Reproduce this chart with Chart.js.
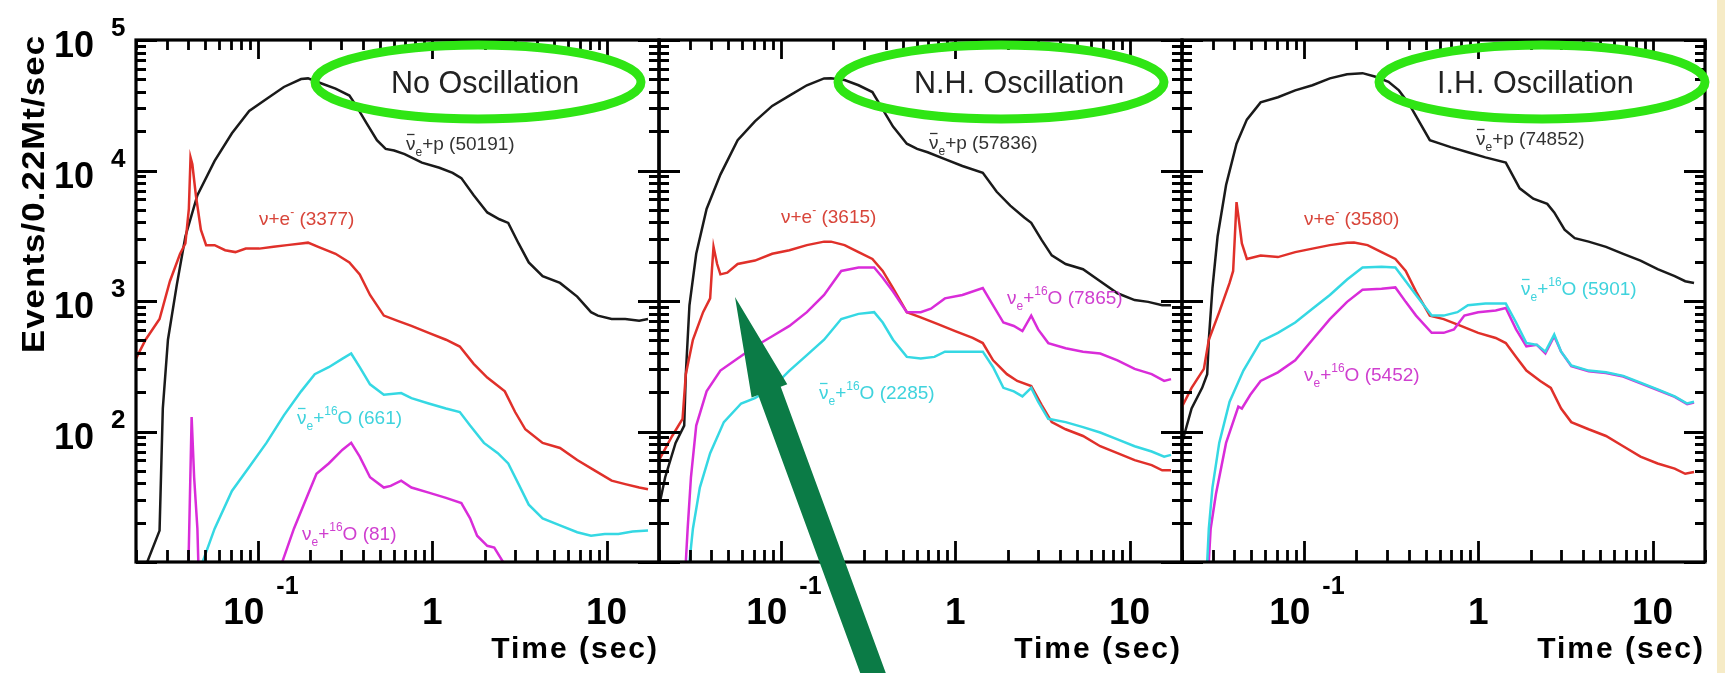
<!DOCTYPE html>
<html>
<head>
<meta charset="utf-8">
<title>Supernova neutrino event rates</title>
<script src="https://cdn.jsdelivr.net/npm/chart.js@4.4.1/dist/chart.umd.min.js"></script>
<style>
  html, body { margin: 0; padding: 0; background: #fff; }
  #wrap { position: relative; width: 1725px; height: 673px; overflow: hidden; background: #fff; }
  #wrap canvas { position: absolute; left: 0; top: 0; }
  #edge { position: absolute; right: 0; top: 0; width: 8px; height: 673px; background: #f6ebc6; }
</style>
</head>
<body>
<div id="wrap">
  <canvas id="pad0" width="1725" height="673"></canvas>
  <canvas id="pad1" width="1725" height="673"></canvas>
  <canvas id="pad2" width="1725" height="673"></canvas>
  <div id="edge"></div>
</div>
<script>
// time in seconds, rates in events / 0.22 Mt / s

const panelTitles = ['No Oscillation', 'N.H. Oscillation', 'I.H. Oscillation'];
const ibdTotals = [50191, 57836, 74852];
const esTotals = [3377, 3615, 3580];
const antiOTotals = [661, 2285, 5901];
const nueOTotals = [81, 7865, 5452];

const xTickValues = [0.1, 1, 10];
const xTickBase = ['10', '1', '10'];
const xTickExp = ['-1', '', ''];
const yTickValues = [1e2, 1e3, 1e4, 1e5];
const yTickExp = ['2', '3', '4', '5'];

// --- no oscillation ---
const noOscIbdT = [0.0232, 0.0273, 0.0285, 0.0305, 0.0343, 0.0384, 0.045, 0.0565, 0.071, 0.0892, 0.112, 0.141, 0.177, 0.194, 0.232, 0.279, 0.335, 0.367, 0.42, 0.482, 0.541, 0.605, 0.695, 0.873, 1.1, 1.31, 1.47, 1.73, 2.07, 2.43, 2.73, 3.13, 3.58, 4.3, 5.41, 6.79, 8.15, 8.92, 10.7, 12.8, 15.4, 17.3];
const noOscIbdN = [10, 17.4, 150, 505, 1334, 3120, 6460, 11860, 19300, 28580, 35300, 43650, 50200, 50800, 46400, 42400, 37500, 31250, 23100, 17060, 14650, 14220, 13370, 11500, 10500, 9600, 8750, 6460, 4770, 4230, 3970, 2760, 1977, 1552, 1375, 1080, 821, 773, 727, 727, 705, 727];
const noOscEsT = [0.02, 0.0227, 0.0273, 0.0313, 0.0358, 0.0384, 0.0402, 0.0411, 0.0421, 0.0441, 0.0471, 0.0505, 0.0565, 0.0649, 0.0743, 0.0853, 0.102, 0.123, 0.147, 0.177, 0.194, 0.222, 0.279, 0.335, 0.384, 0.44, 0.528, 0.634, 0.76, 0.955, 1.2, 1.44, 1.73, 2.07, 2.61, 2.99, 3.42, 4.3, 5.41, 6.79, 8.53, 10.7, 12.8, 15.4, 17.3];
const noOscEsN = [362, 505, 727, 1418, 2300, 2760, 5070, 12600, 11150, 6460, 3520, 2680, 2680, 2450, 2370, 2520, 2520, 2600, 2680, 2760, 2800, 2600, 2300, 1977, 1600, 1112, 773, 705, 644, 570, 505, 448, 330, 259, 203, 141, 104, 81.8, 74.8, 60.4, 50.4, 42.0, 39.5, 37.2, 36.1];
const noOscAntiOT = [0.0482, 0.0565, 0.071, 0.0892, 0.112, 0.141, 0.177, 0.212, 0.255, 0.306, 0.343, 0.384, 0.44, 0.528, 0.664, 0.76, 0.955, 1.2, 1.44, 1.65, 1.98, 2.38, 2.73, 3.13, 3.58, 4.3, 5.41, 6.79, 8.15, 9.77, 11.7, 14.1, 17.3];
const noOscAntiON = [10, 18.0, 35.0, 53.5, 81.8, 133, 203, 275, 311, 362, 396, 311, 230, 191, 197, 180, 164, 150, 141, 111, 81.8, 68.2, 56.9, 39.5, 27.5, 21.6, 19.1, 16.9, 15.9, 16.4, 16.4, 17.1, 17.4];
const noOscNueOT = [0.0390, 0.0417, 0.0431, 0.0450, 0.0471, 0.125, 0.138, 0.161, 0.194, 0.217, 0.255, 0.306, 0.343, 0.384, 0.44, 0.528, 0.578, 0.664, 0.76, 0.955, 1.2, 1.47, 1.65, 1.81, 2.07, 2.27, 2.55, 2.8];
const noOscNueON = [2, 129, 44.6, 18.0, 2, 5, 10, 18.0, 33.0, 47.4, 56.9, 72.5, 81.8, 64.2, 44.6, 37.2, 38.3, 42.0, 37.2, 34.0, 31.0, 28.3, 21.6, 15.9, 13.3, 12.9, 10, 5];

// --- normal hierarchy ---
const nhIbdT = [0.02, 0.0217, 0.0249, 0.0279, 0.0285, 0.0299, 0.0327, 0.0375, 0.045, 0.0565, 0.071, 0.0892, 0.112, 0.141, 0.177, 0.194, 0.232, 0.279, 0.335, 0.384, 0.44, 0.528, 0.605, 0.695, 0.873, 1.1, 1.44, 1.73, 2.07, 2.49, 2.73, 3.13, 3.58, 4.3, 5.41, 6.79, 8.53, 10.7, 12.8, 15.4, 17.3];
const nhIbdN = [26.6, 44.6, 81.8, 111, 275, 927, 2300, 5070, 9300, 17060, 23800, 31250, 37500, 45000, 50800, 51000, 49300, 45000, 39900, 29400, 21700, 16050, 14650, 13800, 12220, 10830, 9600, 6870, 5380, 4360, 3970, 2940, 2235, 1920, 1753, 1418, 1146, 1016, 985, 927, 927];
const nhEsT = [0.02, 0.0238, 0.0273, 0.0285, 0.0313, 0.0358, 0.0393, 0.0402, 0.0411, 0.0431, 0.045, 0.0493, 0.0565, 0.071, 0.0892, 0.112, 0.141, 0.177, 0.194, 0.232, 0.279, 0.335, 0.384, 0.44, 0.528, 0.634, 0.796, 1.0, 1.26, 1.44, 1.65, 1.98, 2.27, 2.73, 3.13, 3.58, 4.3, 5.41, 6.79, 8.53, 10.7, 13.4, 15.4, 17.3];
const nhEsN = [60.4, 92.4, 125, 275, 505, 821, 1047, 1700, 2600, 1920, 1600, 1650, 1920, 2040, 2300, 2450, 2680, 2850, 2850, 2680, 2370, 2100, 1700, 1256, 821, 750, 664, 588, 521, 476, 351, 275, 244, 223, 160, 118, 104, 92.4, 77.1, 68.2, 60.4, 55.2, 50.4, 50.4];
const nhAntiOT = [0.0292, 0.0299, 0.0313, 0.0343, 0.0393, 0.0471, 0.0592, 0.071, 0.0892, 0.112, 0.141, 0.177, 0.222, 0.279, 0.343, 0.384, 0.44, 0.528, 0.634, 0.76, 0.873, 1.1, 1.44, 1.65, 1.89, 2.17, 2.43, 2.73, 2.99, 3.42, 4.3, 5.41, 6.79, 8.53, 10.7, 13.4, 15.8, 17.3];
const nhAntiON = [5, 10, 18.0, 37.2, 68.2, 118, 164, 180, 216, 293, 385, 505, 727, 797, 821, 684, 505, 373, 362, 373, 409, 409, 409, 311, 216, 203, 186, 216, 169, 125, 118, 108, 98.2, 86.9, 77.1, 70.3, 64.2, 66.2];
const nhNueOT = [0.0279, 0.0285, 0.0292, 0.0305, 0.0327, 0.0375, 0.045, 0.0565, 0.071, 0.0892, 0.112, 0.141, 0.177, 0.222, 0.279, 0.343, 0.384, 0.44, 0.528, 0.634, 0.726, 0.873, 1.1, 1.44, 1.65, 1.89, 2.17, 2.43, 2.73, 2.99, 3.42, 4.3, 5.41, 6.79, 8.53, 10.7, 13.4, 15.8, 17.3];
const nhNueON = [5, 10, 18.0, 44.6, 111, 203, 293, 362, 448, 537, 644, 821, 1112, 1700, 1806, 1806, 1507, 1181, 821, 821, 873, 1047, 1112, 1256, 927, 684, 644, 588, 773, 606, 476, 434, 409, 396, 351, 302, 275, 244, 252];

// --- inverted hierarchy ---
const ihIbdT = [0.02, 0.0227, 0.0261, 0.0279, 0.0285, 0.0299, 0.032, 0.0358, 0.0411, 0.0471, 0.0565, 0.071, 0.0892, 0.112, 0.141, 0.177, 0.217, 0.255, 0.306, 0.351, 0.402, 0.44, 0.528, 0.605, 0.695, 0.873, 1.1, 1.44, 1.73, 2.07, 2.49, 2.73, 3.13, 3.58, 4.3, 5.41, 6.79, 8.53, 10.7, 13.4, 15.4, 17.3];
const ihIbdN = [81.8, 150, 216, 275, 505, 1256, 3120, 7750, 16050, 24550, 33250, 36400, 41100, 45000, 50800, 54700, 55700, 52500, 47800, 41100, 32250, 26100, 17060, 16050, 15100, 13800, 12600, 11500, 7300, 6080, 5550, 4770, 3520, 3030, 2850, 2600, 2300, 2040, 1753, 1552, 1418, 1375];
const ihEsT = [0.02, 0.0227, 0.0267, 0.0285, 0.0327, 0.0375, 0.0393, 0.0402, 0.0411, 0.0421, 0.0441, 0.0471, 0.0565, 0.071, 0.0892, 0.112, 0.141, 0.177, 0.194, 0.232, 0.279, 0.335, 0.384, 0.44, 0.528, 0.634, 0.796, 1.0, 1.26, 1.44, 1.65, 1.89, 2.27, 2.61, 2.99, 3.42, 4.3, 5.41, 6.79, 8.53, 10.7, 13.4, 15.4, 17.3];
const ihEsN = [155, 216, 302, 505, 821, 1375, 1700, 3120, 5720, 4490, 2760, 2100, 2235, 2170, 2370, 2520, 2680, 2800, 2810, 2680, 2370, 2100, 1700, 1181, 773, 727, 644, 570, 521, 476, 373, 293, 244, 216, 150, 118, 104, 92.4, 77.1, 64.2, 56.9, 51.9, 47.4, 48.9];
const ihAntiOT = [0.0272, 0.0279, 0.0285, 0.0299, 0.0327, 0.0375, 0.045, 0.0565, 0.071, 0.0892, 0.112, 0.141, 0.177, 0.217, 0.279, 0.335, 0.384, 0.44, 0.541, 0.634, 0.76, 0.873, 1.1, 1.44, 1.65, 1.89, 2.17, 2.43, 2.73, 2.99, 3.42, 4.3, 5.41, 6.79, 8.53, 10.7, 13.4, 15.8, 17.3];
const ihAntiON = [5, 10, 18.0, 37.2, 81.8, 169, 293, 490, 570, 684, 873, 1112, 1462, 1806, 1828, 1806, 1418, 1112, 773, 773, 821, 927, 955, 955, 684, 476, 461, 409, 553, 409, 321, 293, 284, 267, 237, 210, 186, 164, 169];
const ihNueOT = [0.0278, 0.0285, 0.0292, 0.0313, 0.0358, 0.0421, 0.0441, 0.0493, 0.0565, 0.071, 0.0892, 0.112, 0.141, 0.177, 0.217, 0.279, 0.335, 0.384, 0.44, 0.541, 0.634, 0.726, 0.833, 1.0, 1.26, 1.44, 1.65, 1.89, 2.17, 2.43, 2.73, 2.99, 3.42, 4.3, 5.41, 6.79, 8.53, 10.7, 13.4, 15.8, 17.3];
const ihNueON = [5, 10, 18.0, 33.0, 81.8, 155, 150, 191, 244, 284, 351, 505, 727, 985, 1218, 1241, 1271, 985, 773, 570, 570, 606, 773, 821, 847, 883, 606, 448, 461, 396, 537, 409, 316, 290, 281, 264, 234, 208, 184, 162, 167];

// ---------------------------------------------------------------------------

const FONT = '"Liberation Sans", Arial, Helvetica, sans-serif';
const W = 1725, H = 673;
const frameTop = 40, frameBottom = 562, padWidth = 523;
const padLeft = [136, 659, 1182];

// log-axis tick positions: majors at decades, minors at 2..9 of each decade
const xTickMarks = [], yTickMarks = [];
[0.01, 0.1, 1, 10].forEach(d => [1, 2, 3, 4, 5, 6, 7, 8, 9].forEach(k => {
  const v = +(k * d).toPrecision(3);
  if (v >= 0.02 && v <= 20) xTickMarks.push({ v, major: k === 1 });
}));
[10, 100, 1000, 10000, 100000].forEach(d => [1, 2, 3, 4, 5, 6, 7, 8, 9].forEach(k => {
  const v = k * d;
  if (v <= 100000) yTickMarks.push({ v, major: k === 1 });
}));

const lineColor = { ibd: '#1a1a1a', es: '#e0302a', antiO: '#35d8e3', nueO: '#d92cd9' };
const textColor = { ibd: '#333333', es: '#d8453a', antiO: '#3fd3dd', nueO: '#cf3fcf' };

const pads = [
  { curves: { ibd: [noOscIbdT, noOscIbdN], es: [noOscEsT, noOscEsN], antiO: [noOscAntiOT, noOscAntiON], nueO: [noOscNueOT, noOscNueON] },
    labels: { ibd: [270, 150], es: [123, 225], antiO: [161, 424], nueO: [166, 540] },
    ring: 342, titleX: 255 },
  { curves: { ibd: [nhIbdT, nhIbdN], es: [nhEsT, nhEsN], antiO: [nhAntiOT, nhAntiON], nueO: [nhNueOT, nhNueON] },
    labels: { ibd: [270, 149], es: [122, 223], nueO: [348, 304], antiO: [160, 399] },
    ring: 342, titleX: 255 },
  { curves: { ibd: [ihIbdT, ihIbdN], es: [ihEsT, ihEsN], antiO: [ihAntiOT, ihAntiON], nueO: [ihNueOT, ihNueON] },
    labels: { ibd: [294, 145], es: [122, 225], antiO: [339, 295], nueO: [122, 381] },
    ring: 360, titleX: 255 }
];

function toPoints(t, n) {
  return t.map((v, i) => ({ x: v, y: n[i] }));
}

function labelParts(kind, total) {
  if (kind === 'ibd') return [{ t: 'ν', bar: true }, { t: 'e', sub: true }, { t: '+p (' + total + ')' }];
  if (kind === 'es') return [{ t: 'ν+e' }, { t: '-', sup: true }, { t: ' (' + total + ')' }];
  if (kind === 'antiO') return [{ t: 'ν', bar: true }, { t: 'e', sub: true }, { t: '+' }, { t: '16', sup: true }, { t: 'O (' + total + ')' }];
  return [{ t: 'ν' }, { t: 'e', sub: true }, { t: '+' }, { t: '16', sup: true }, { t: 'O (' + total + ')' }];
}

// text with sub/superscripts and an optional overbar
function drawRich(ctx, x, y, parts, size, color) {
  ctx.fillStyle = color;
  ctx.textAlign = 'left';
  ctx.textBaseline = 'alphabetic';
  let cx = x;
  parts.forEach(p => {
    const small = p.sub || p.sup;
    const fs = small ? Math.round(size * 0.62) : size;
    ctx.font = fs + 'px ' + FONT;
    const dy = p.sub ? size * 0.3 : (p.sup ? -size * 0.45 : 0);
    ctx.fillText(p.t, cx, y + dy);
    const w = ctx.measureText(p.t).width;
    if (p.bar) ctx.fillRect(cx + 1, y - size * 0.85, w - 2, 1.3);
    cx += w;
  });
}

function drawArrow(ctx) {
  const tip = [735, 297], tail = [873, 673];
  const len = Math.hypot(tail[0] - tip[0], tail[1] - tip[1]);
  const d = [(tail[0] - tip[0]) / len, (tail[1] - tip[1]) / len];
  const n = [d[1], -d[0]];
  const headLen = 100, headHalf = 19, shaftHalf = 12;
  const base = [tip[0] + d[0] * headLen, tip[1] + d[1] * headLen];
  const end = [base[0] + d[0] * 340, base[1] + d[1] * 340];
  const p = (o, s) => [o[0] + n[0] * s, o[1] + n[1] * s];
  const pts = [tip, p(base, headHalf), p(base, shaftHalf), p(end, shaftHalf), p(end, -shaftHalf), p(base, -shaftHalf), p(base, -headHalf)];
  ctx.fillStyle = '#0b7b46';
  ctx.beginPath();
  pts.forEach((q, i) => i ? ctx.lineTo(q[0], q[1]) : ctx.moveTo(q[0], q[1]));
  ctx.closePath();
  ctx.fill();
}

// ROOT-style frame, ticks, labels and annotations for one pad
const padDecor = {
  id: 'padDecor',
  afterDraw(chart) {
    const i = chart.options.plugins.padDecor.index;
    const pad = pads[i];
    const ctx = chart.ctx;
    const xs = chart.scales.x, ys = chart.scales.y;
    const a = chart.chartArea;
    ctx.save();

    // frame
    ctx.strokeStyle = '#000';
    ctx.lineWidth = 3.2;
    ctx.strokeRect(a.left, a.top, a.right - a.left, a.bottom - a.top);

    // ticks on all four sides, pointing inwards
    ctx.lineWidth = 2.8;
    ctx.lineCap = 'butt';
    ctx.beginPath();
    xTickMarks.forEach(m => {
      const px = Math.round(xs.getPixelForValue(m.v)) + 0.5;
      const lb = m.major ? 21 : 12, lt = m.major ? 19 : 10;
      ctx.moveTo(px, a.bottom);
      ctx.lineTo(px, a.bottom - lb);
      ctx.moveTo(px, a.top);
      ctx.lineTo(px, a.top + lt);
    });
    yTickMarks.forEach(m => {
      const py = Math.round(ys.getPixelForValue(m.v)) + 0.5;
      const l = m.major ? 21 : 10;
      ctx.moveTo(a.left, py);
      ctx.lineTo(a.left + l, py);
      ctx.moveTo(a.right, py);
      ctx.lineTo(a.right - l, py);
    });
    ctx.stroke();

    // x tick labels
    ctx.fillStyle = '#000';
    ctx.textBaseline = 'alphabetic';
    ctx.textAlign = 'left';
    xTickValues.forEach((v, j) => {
      const px = xs.getPixelForValue(v);
      ctx.font = 'bold 37px ' + FONT;
      const wb = ctx.measureText(xTickBase[j]).width;
      ctx.font = 'bold 25px ' + FONT;
      const we = xTickExp[j] ? ctx.measureText(xTickExp[j]).width : 0;
      const gap = xTickExp[j] ? 12 : 0;
      const x0 = px - (wb + gap + we) / 2 + (xTickExp[j] ? 3 : 0);
      ctx.font = 'bold 37px ' + FONT;
      ctx.fillText(xTickBase[j], x0, 624);
      if (xTickExp[j]) {
        ctx.font = 'bold 25px ' + FONT;
        ctx.fillText(xTickExp[j], x0 + wb + gap, 594);
      }
    });

    // x title
    ctx.font = 'bold 30px ' + FONT;
    ctx.letterSpacing = '2px';
    ctx.textAlign = 'right';
    ctx.fillText('Time (sec)', a.right, 658);
    ctx.letterSpacing = '0px';

    if (i === 0) {
      // y tick labels
      yTickValues.forEach((v, j) => {
        const py = ys.getPixelForValue(v);
        ctx.font = 'bold 36px ' + FONT;
        ctx.textAlign = 'right';
        ctx.fillText('10', 94, py + 17);
        ctx.font = 'bold 26px ' + FONT;
        ctx.textAlign = 'left';
        ctx.fillText(yTickExp[j], 111, py - 4);
      });
      // y title
      ctx.save();
      ctx.translate(44, 194);
      ctx.rotate(-Math.PI / 2);
      ctx.scale(1.12, 1);
      ctx.font = 'bold 31px ' + FONT;
      ctx.letterSpacing = '1px';
      ctx.textAlign = 'center';
      ctx.fillText('Events/0.22Mt/sec', 0, 0);
      ctx.restore();
    }

    // curve labels
    const totals = { ibd: ibdTotals[i], es: esTotals[i], antiO: antiOTotals[i], nueO: nueOTotals[i] };
    Object.keys(pad.labels).forEach(k => {
      const [lx, ly] = pad.labels[k];
      drawRich(ctx, a.left + lx, ly, labelParts(k, totals[k]), 19, textColor[k]);
    });

    // pad title with green ring
    ctx.font = '30.5px ' + FONT;
    ctx.fillStyle = '#222';
    ctx.textAlign = 'left';
    ctx.fillText(panelTitles[i], a.left + pad.titleX, 93);
    ctx.strokeStyle = '#2fe514';
    ctx.lineWidth = 9;
    ctx.beginPath();
    ctx.ellipse(a.left + pad.ring, 82, 163, 37, 0, 0, Math.PI * 2);
    ctx.stroke();

    if (i === 1) drawArrow(ctx);
    ctx.restore();
  }
};

pads.forEach((pad, i) => {
  const order = ['antiO', 'nueO', 'es', 'ibd'];
  const datasets = order.map(k => ({
    label: k,
    data: toPoints(pad.curves[k][0], pad.curves[k][1]),
    borderColor: lineColor[k],
    borderWidth: 2.5,
    pointRadius: 0,
    tension: 0,
    fill: false,
    clip: 0
  }));
  new Chart(document.getElementById('pad' + i), {
    type: 'line',
    data: { datasets },
    options: {
      responsive: false,
      maintainAspectRatio: false,
      devicePixelRatio: 1,
      animation: false,
      events: [],
      layout: { padding: { left: padLeft[i], right: W - padLeft[i] - padWidth, top: frameTop, bottom: H - frameBottom } },
      scales: {
        x: { type: 'logarithmic', min: 0.02, max: 20, display: false },
        y: { type: 'logarithmic', min: 10, max: 1e5, display: false }
      },
      plugins: { legend: { display: false }, tooltip: { enabled: false }, padDecor: { index: i } }
    },
    plugins: [padDecor]
  });
});
</script>
</body>
</html>
